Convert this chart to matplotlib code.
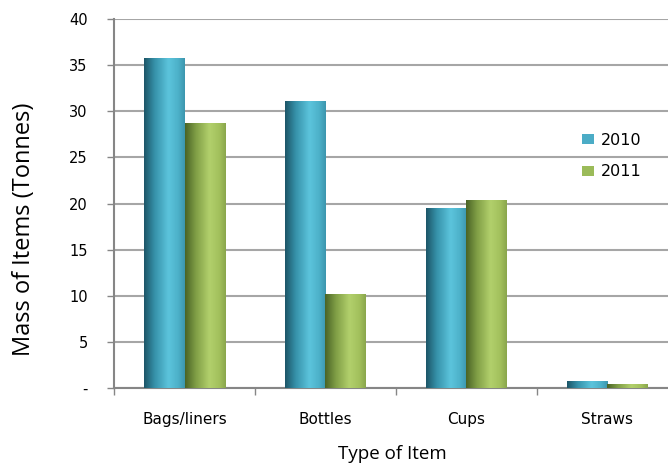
import matplotlib.pyplot as plt
import numpy as np
from matplotlib.colors import LinearSegmentedColormap

# data
categories = ["Bags/liners", "Bottles", "Cups", "Straws"]
years = ["2010", "2011"]
mass_2010 = [35.8, 31.1, 19.5, 0.75]
mass_2011 = [28.7, 10.2, 20.4, 0.45]

blue_cmap = LinearSegmentedColormap.from_list(
    "b", [(0, "#1d5668"), (0.25, "#3590a8"), (0.6, "#5cc4dc"), (0.85, "#4cb0c8"), (1, "#3d96ae")])
green_cmap = LinearSegmentedColormap.from_list(
    "g", [(0, "#4a6426"), (0.25, "#7e9c44"), (0.6, "#b2d06c"), (0.85, "#a2c05c"), (1, "#8aa64c")])


def gradient_bars(ax, bars, cmap):
    """ fill each bar with a horizontal shading """
    grad = np.linspace(0, 1, 64).reshape(1, -1)
    for b in bars:
        x0, y0 = b.get_x(), b.get_y()
        w, h = b.get_width(), b.get_height()
        im = ax.imshow(grad, cmap=cmap, aspect="auto", extent=(x0, x0 + w, y0, y0 + h),
                       zorder=3, interpolation="bicubic")
        im.set_clip_path(b)


fig = plt.figure(figsize=(6.68, 4.66), dpi=100)
ax = fig.add_axes([0.1707, 0.1674, 0.8293, 0.7918])

x = np.arange(len(categories))
w = 0.287
b1 = ax.bar(x - w / 2, mass_2010, w, color="#4bacc6", label=years[0], zorder=2)
b2 = ax.bar(x + w / 2, mass_2011, w, color="#9bbb59", label=years[1], zorder=2)
gradient_bars(ax, b1, blue_cmap)
gradient_bars(ax, b2, green_cmap)

ax.set_xlim(-0.5, 3.43)
ax.set_ylim(0, 40)
ax.set_yticks(range(0, 45, 5))
ax.set_yticklabels(["-"] + [str(v) for v in range(5, 45, 5)], fontsize=10.5, family="DejaVu Sans")
ax.set_xticks(x, categories, fontsize=11, family="DejaVu Sans")
ax.tick_params(axis="x", length=0, pad=17)
ax.set_xticks(np.arange(-0.5, 3.5, 1), minor=True)
ax.tick_params(axis="x", which="minor", length=5, color="#868686", width=1)
ax.tick_params(axis="y", length=5, color="#868686", width=1, pad=14)

ax.grid(axis="y", color="#a6a6a6", linewidth=1.5, zorder=0)
ax.set_axisbelow(True)
for s in ["top", "right"]:
    ax.spines[s].set_visible(False)
for s in ["left", "bottom"]:
    ax.spines[s].set_color("#868686")
    ax.spines[s].set_linewidth(1.5)

ax.set_ylabel("Mass of Items (Tonnes)", fontsize=17, family="Open Sans", va="center")
ax.yaxis.set_label_coords(-0.162, 0.43)
ax.set_xlabel("Type of Item", fontsize=13.5, family="Open Sans", va="center")
ax.xaxis.set_label_coords(0.502, -0.179)

ax.legend(loc="center left", bbox_to_anchor=(0.845, 0.629), frameon=False,
          handlelength=0.75, handleheight=0.6, handletextpad=0.45, labelspacing=1.05,
          borderpad=0, borderaxespad=0, prop={"family": "DejaVu Sans", "size": 11.5})

plt.savefig("out.png", dpi=100)
